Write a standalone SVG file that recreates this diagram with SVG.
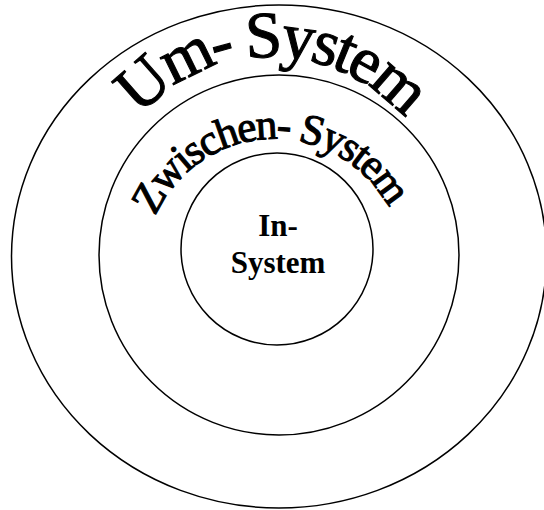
<svg xmlns="http://www.w3.org/2000/svg" width="544" height="510" viewBox="0 0 544 510">
<style>
.ring{fill:none;stroke:#000;stroke-width:1.5}
.arc{font-family:"Liberation Serif","Times New Roman",serif;fill:#000;stroke:#000;stroke-width:1.1}
.lbl{font-family:"Liberation Serif","Times New Roman",serif;font-weight:bold;font-size:31px;text-anchor:middle;fill:#000}
</style>
<defs>
<path id="umPath" d="M 96 232 A 175 175 0 0 1 446 232"/>
<path id="zwPath" d="M 144 269 A 130 130 0 0 1 404 269"/>
</defs>
<rect width="544" height="510" fill="#fff"/>
<g id="um-system">
<ellipse class="ring" cx="279" cy="256.5" rx="267.5" ry="251.5"/>
<text class="arc" font-size="66" letter-spacing="-3.5"><textPath href="#umPath" startOffset="275" text-anchor="middle">Um- System</textPath></text>
</g>
<g id="zwischen-system">
<circle class="ring" cx="279" cy="255" r="180"/>
<text class="arc" font-size="43" letter-spacing="-1.9"><textPath href="#zwPath" startOffset="198.5" text-anchor="middle">Zwischen- System</textPath></text>
</g>
<g id="in-system">
<circle class="ring" cx="277" cy="249" r="96"/>
<text class="lbl" x="278" y="236">In-</text>
<text class="lbl" x="278" y="273">System</text>
</g>
</svg>
